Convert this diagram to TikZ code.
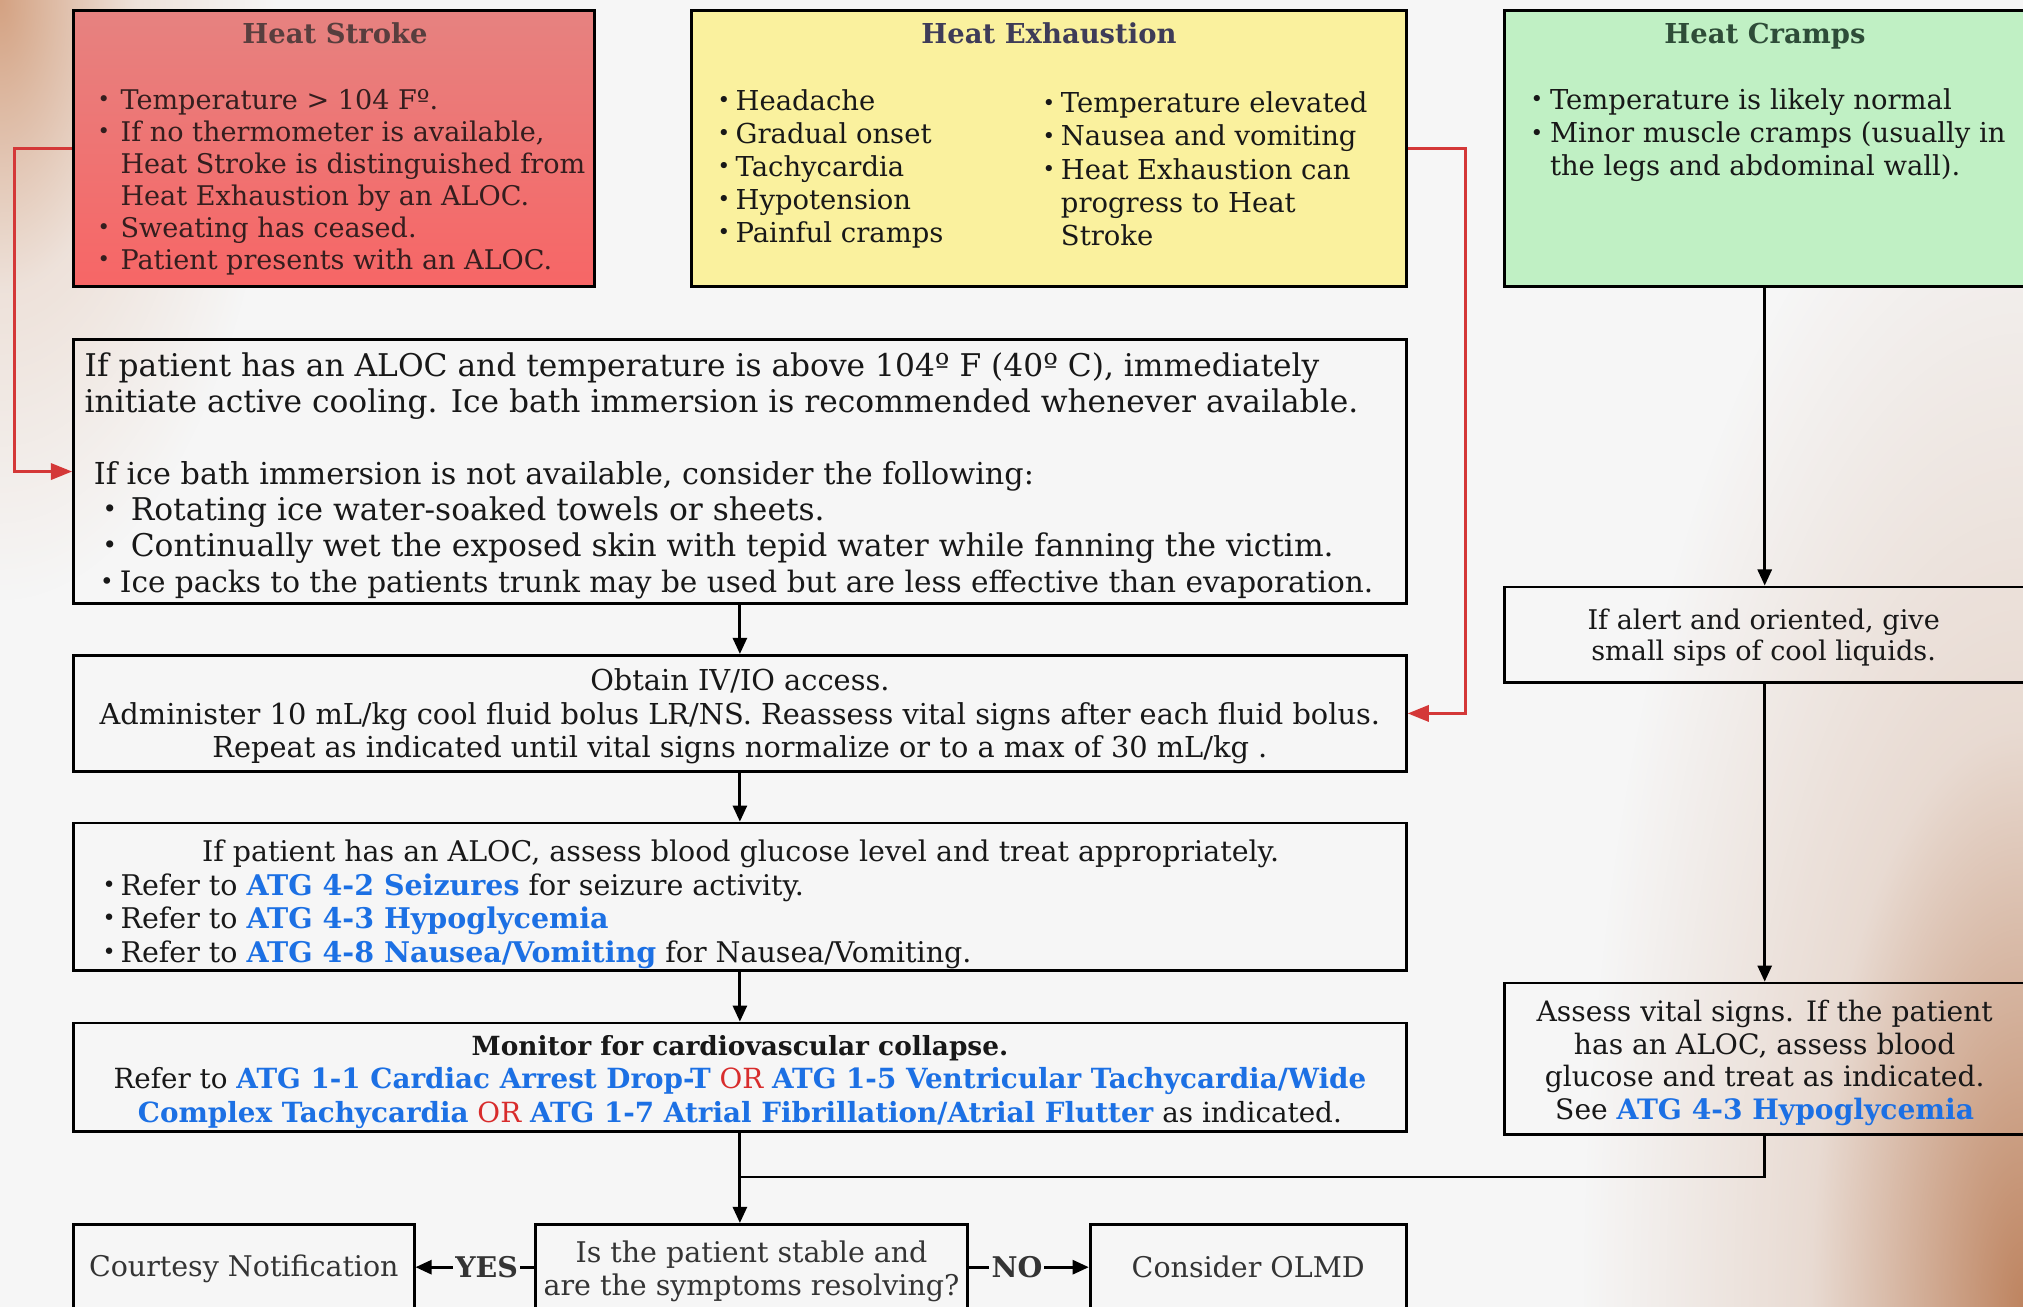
\documentclass[tikz,border=0pt]{standalone}
\usepackage{fontspec}
\setmainfont{DejaVu Serif}
\usetikzlibrary{arrows.meta,fit,fadings}

\definecolor{bggray}{RGB}{246,246,246}
\definecolor{cornerpeach}{RGB}{212,162,130}
\definecolor{cornerbrown}{RGB}{190,132,96}
\definecolor{strokeTop}{RGB}{230,130,128}
\definecolor{strokeBot}{RGB}{247,102,102}
\definecolor{exhyellow}{RGB}{250,241,158}
\definecolor{crampgreen}{RGB}{192,240,196}
\definecolor{strokeink}{RGB}{88,62,62}
\definecolor{strokebody}{RGB}{52,30,30}
\definecolor{exhink}{RGB}{62,60,88}
\definecolor{crampink}{RGB}{46,76,56}
\definecolor{bodyink}{RGB}{24,24,24}
\definecolor{softink}{RGB}{52,52,52}
\definecolor{linkblue}{RGB}{28,112,228}
\definecolor{orred}{RGB}{216,44,44}
\definecolor{redline}{RGB}{212,56,56}

% corner glow: strong in the corner, gone at half the radius
\pgfdeclareradialshading{cornershade}{\pgfpoint{0bp}{0bp}}{color(0bp)=(white); color(5bp)=(black!32!white); color(12bp)=(black!76!white); color(25bp)=(black); color(50bp)=(black)}
\pgfdeclarefading{cornerfade}{\pgfuseshading{cornershade}}

\newcommand{\lk}[1]{\textcolor{linkblue}{\textbf{#1}}}
\newcommand{\orr}[1]{\textcolor{orred}{#1}}
\newcommand{\bl}[1]{\makebox[#1][l]{\raisebox{0.2ex}{\scalebox{0.78}{•}}}}
\newcommand{\fsTop}{\fontsize{7.8}{9.4}\selectfont}
\newcommand{\fsMid}{\fontsize{8.1}{9.5}\selectfont}

\tikzset{
  box/.style={draw=black, line width=0.8pt, inner sep=0pt},
  title/.style={font=\bfseries\fontsize{7.8}{9.4}\selectfont, inner sep=0pt, anchor=base},
  txt/.style={inner sep=0pt, align=left, anchor=west, text=bodyink},
  ctxt/.style={inner sep=0pt, align=center, text=bodyink},
  conn/.style={line width=0.8pt},
  redconn/.style={draw=redline, line width=0.8pt, -{Triangle[length=6pt,width=4.6pt]}},
  yesno/.style={font=\bfseries\fsMid, fill=bggray, inner sep=0.6pt, text=softink}
}

\begin{document}
\begin{tikzpicture}[x=0.01cm, y=-0.01cm, >={Triangle[length=4.6pt,width=4pt]}]

\useasboundingbox (0,0) rectangle (2023,1307);
% background with tinted corners
\begin{scope}
  \clip (0,0) rectangle (2023,1307);
  \fill[bggray] (0,0) rectangle (2023,1307);
  \fill[cornerpeach, path fading=cornerfade] (0,0) ellipse (280 and 600);
  \fill[cornerbrown, path fading=cornerfade] (2023,1307) ellipse (440 and 1200);
\end{scope}

% three kinds of heat illness
\node[box, top color=strokeTop, bottom color=strokeBot, fit={(73.5,10.3) (594.8,286.4)}] (stroke) {};
\node[box, fill=exhyellow, fit={(691.5,10.3) (1406.3,286.4)}] (exh) {};
\node[box, fill=crampgreen, fit={(1504.4,10.3) (2025,286.4)}] (cramp) {};

\node[title, text=strokeink] (strokeT) at (335,44) {Heat Stroke};
\node[title, text=exhink] (exhT) at (1049,44) {Heat Exhaustion};
\node[title, text=crampink] (crampT) at (1765,44) {Heat Cramps};

\node[txt, font=\fontsize{7.7}{9.1}\selectfont, text=strokebody] (strokeB) at (97,182)
  {\bl{6.5pt}Temperature > 104 Fº.\\
   \bl{6.5pt}If no thermometer is available,\\
   \hspace*{6.5pt}Heat Stroke is distinguished from\\
   \hspace*{6.5pt}Heat Exhaustion by an ALOC.\\
   \bl{6.5pt}Sweating has ceased.\\
   \bl{6.5pt}Patient presents with an ALOC.};
\node[txt, font=\fsTop] (exhL) at (717,169)
  {\bl{5.1pt}Headache\\ \bl{5.1pt}Gradual onset\\ \bl{5.1pt}Tachycardia\\
   \bl{5.1pt}Hypotension\\ \bl{5.1pt}Painful cramps};
\node[txt, font=\fsTop] (exhR) at (1042,168.8)
  {\bl{5.2pt}Temperature elevated\\ \bl{5.2pt}Nausea and vomiting\\
   \bl{5.2pt}Heat Exhaustion can\\ \hspace*{5.2pt}progress to Heat\\ \hspace*{5.2pt}Stroke};
\node[txt, font=\fsTop] (crampB) at (1530,135.5)
  {\bl{5.5pt}Temperature is likely normal\\
   \bl{5.5pt}Minor muscle cramps (usually in\\
   \hspace*{5.5pt}the legs and abdominal wall).};

% main column
\node[box, fit={(73.5,339.3) (1406.3,603.8)}] (cool) {};
\node[txt, font=\fontsize{8.9}{10.2}\selectfont] (coolT) at (84,476)
  {If patient has an ALOC and temperature is above 104º F (40º C), immediately\\
   initiate active cooling. Ice bath immersion is recommended whenever available.\\[10.2pt]
   \fontsize{8.6}{10.2}\selectfont
   \hspace*{2.6pt}If ice bath immersion is not available, consider the following:\\
   \hspace*{5.1pt}\bl{8pt}Rotating ice water-soaked towels or sheets.\\
   \hspace*{5.1pt}\bl{8pt}Continually wet the exposed skin with tepid water while fanning the victim.\\
   \fontsize{8.4}{10.2}\selectfont
   \hspace*{4.4pt}\bl{5.6pt}Ice packs to the patients trunk may be used but are less effective than evaporation.};

\node[box, fit={(73.5,655.4) (1406.3,771.5)}] (iv) {};
\node[ctxt, font=\fontsize{8.2}{9.5}\selectfont] (ivT) at ([yshift=-0.9pt]iv.center)
  {Obtain IV/IO access.\\
   Administer 10 mL/kg cool fluid bolus LR/NS. Reassess vital signs after each fluid bolus.\\
   Repeat as indicated until vital signs normalize or to a max of 30 mL/kg .};

\node[box, fit={(73.5,823.1) (1406.3,970.2)}] (aloc) {};
\node[ctxt, font=\fsMid] (alocA) at (740.6,854)
  {If patient has an ALOC, assess blood glucose level and treat appropriately.};
\node[txt, font=\fsMid] (alocB) at (102,921)
  {\bl{5.1pt}Refer to \lk{ATG 4-2 Seizures} for seizure activity.\\
   \bl{5.1pt}Refer to \lk{ATG 4-3 Hypoglycemia}\\
   \bl{5.1pt}Refer to \lk{ATG 4-8 Nausea/Vomiting} for Nausea/Vomiting.};

\node[box, fit={(73.5,1023.1) (1406.3,1131.5)}] (mon) {};
\node[ctxt, font=\fontsize{7.9}{9.5}\selectfont] (monT) at ([yshift=-1.3pt]mon.center)
  {{\fontsize{7.5}{9.5}\selectfont\bfseries Monitor for cardiovascular collapse.}\\
   Refer to \lk{ATG 1-1 Cardiac Arrest Drop-T} \orr{OR} \lk{ATG 1-5 Ventricular Tachycardia/Wide}\\
   \lk{Complex Tachycardia} \orr{OR} \lk{ATG 1-7 Atrial Fibrillation/Atrial Flutter} as indicated.};

% right column
\node[box, fit={(1504.4,587) (2025,682.5)}] (alert) {};
\node[ctxt, font=\fontsize{7.7}{9}\selectfont] (alertT) at ([xshift=-0.3pt,yshift=-0.8pt]alert.center)
  {If alert and oriented, give\\ small sips of cool liquids.};
\node[box, fit={(1504.4,983.1) (2025,1134.1)}] (assess) {};
\node[ctxt, font=\fontsize{8}{9.3}\selectfont] (assessT) at ([yshift=-1.2pt]assess.center)
  {Assess vital signs. If the patient\\ has an ALOC, assess blood\\
   glucose and treat as indicated.\\ See \lk{ATG 4-3 Hypoglycemia}};

% decision row
\node[box, fit={(73.5,1224.4) (414.1,1310)}] (court) {};
\node[ctxt, font=\fsMid, text=softink] (courtT) at ([yshift=-0.5pt]court.center) {Courtesy Notification};
\node[box, fit={(535.4,1224.4) (967.6,1310)}] (quest) {};
\node[ctxt, font=\fsMid, text=softink] (questT) at ([yshift=-1.2pt]quest.center)
  {Is the patient stable and\\ are the symptoms resolving?};
\node[box, fit={(1090.2,1224.4) (1406.3,1310)}] (olmd) {};
\node[ctxt, font=\fsMid, text=softink] (olmdT) at (olmd.center) {Consider OLMD};

% connectors
\draw[redconn] (stroke.west) -- ++(-58,0) |- (cool.west);
\draw[redconn] (exh.east) -- ++(58,0) |- (iv.east);

\draw[conn,->] (cool) -- (iv);
\draw[conn,->] (iv) -- (aloc);
\draw[conn,->] (aloc) -- (mon);
\draw[conn,->] (mon.south) -- (mon.south |- quest.north);
\coordinate (join) at (mon.south |- 0,1177);

\draw[conn,->] (cramp) -- (alert);
\draw[conn,->] (alert) -- (assess);
\draw[conn] (assess.south) |- (join);

\draw[conn,->] (quest) -- node[yesno, pos=0.4] {YES} (court);
\draw[conn,->] (quest) -- node[yesno, pos=0.4] {NO} (olmd);

\end{tikzpicture}
\end{document}
